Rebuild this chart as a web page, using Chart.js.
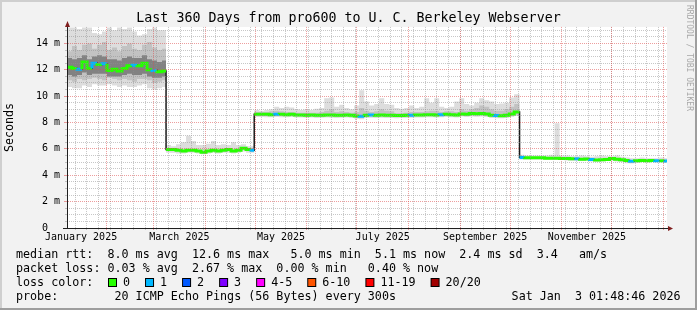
<!DOCTYPE html>
<html>
<head>
<meta charset="utf-8">
<title>Last 360 Days from pro600 to U. C. Berkeley Webserver</title>
<style>
  html, body { margin: 0; padding: 0; background: #f2f2f2; }
  #chartWrapper { width: 697px; height: 310px; }
</style>
<script src="https://cdn.jsdelivr.net/npm/chart.js"></script>
</head>
<body>
<div id="chartWrapper"><canvas id="rttChart" width="697" height="310"></canvas></div>
<script>
// time axis: days since 1 Jan 2025, graph covers the 360 days before Sat Jan 3 01:48:46 2026
const X_MIN = 7.07;
const X_MAX = 367.07;
const STEP = 3;                               // days per plotted sample
const SEG_START = [7.07, 66.5, 119.4, 278.6]; // route changes on Mar 8, Apr 30 and Oct 6

const MONTH_STARTS = [31, 59, 90, 120, 151, 181, 212, 243, 273, 304, 334, 365];
const X_LABEL_DAYS = [15.5, 74.5, 135.5, 196.5, 258, 319];
const X_LABELS = ['January 2025', 'March 2025', 'May 2025', 'July 2025', 'September 2025', 'November 2025'];
const Y_TICKS = [0, 2, 4, 6, 8, 10, 12, 14];
const Y_LABELS = ['0  ', '2 m', '4 m', '6 m', '8 m', '10 m', '12 m', '14 m'];

// median rtt (ms) per sample
const medJanMar = [12.2, 12.1, 12.05, 12.6, 12.1, 12.5, 12.4, 12.45, 11.95, 12.05, 11.9, 12.1, 12.3, 12.35, 12.3, 12.5, 12.0, 11.95, 11.85, 11.9];
const medMarApr = [5.95, 5.95, 5.9, 5.85, 5.9, 5.9, 5.85, 5.75, 5.85, 5.9, 5.85, 5.9, 5.95, 5.85, 5.9, 6.05, 5.95, 5.9];
const medMayOct = [8.62, 8.63, 8.62, 8.6, 8.62, 8.63, 8.6, 8.62,
  8.58, 8.57, 8.56, 8.58, 8.55, 8.56, 8.58, 8.57, 8.55, 8.56, 8.58, 8.55,
  8.5, 8.48, 8.56, 8.57, 8.55, 8.58, 8.56, 8.55, 8.53, 8.54, 8.55, 8.56,
  8.57, 8.58, 8.6, 8.6, 8.58, 8.6, 8.62, 8.6, 8.58, 8.65, 8.62,
  8.68, 8.66, 8.68, 8.64, 8.55, 8.53, 8.52, 8.55, 8.65, 8.8];
const medOctJan = [5.35, 5.33, 5.32, 5.33, 5.32, 5.3, 5.3, 5.3, 5.28, 5.27,
  5.25, 5.25, 5.22, 5.24, 5.2, 5.15, 5.18, 5.2, 5.28, 5.22,
  5.18, 5.12, 5.06, 5.1, 5.12, 5.1, 5.12, 5.1, 5.1, 5.08];

// samples with one lost ping out of 20
const loss1JanMar = [2, 5, 7, 13, 17];
const loss1MarApr = [17];
const loss1MayOct = [4, 21, 23, 31, 37, 48];
const loss1OctJan = [0, 11, 14, 22, 27, 29];

// smoke: spread of the 20 pings (ms)
const maxJanMar = [15.2, 15.2, 15.1, 15.2, 15.2, 14.8, 14.7, 14.9, 15.2, 15.0, 15.2, 15.1, 15.2, 14.9, 14.6, 14.7, 15.1, 15.2, 15.0, 15.0];
const hiJanMar = [13.4, 13.8, 13.5, 13.9, 14.0, 13.6, 13.9, 14.1, 13.5, 13.7, 13.4, 13.8, 14.0, 13.6, 13.5, 13.9, 14.1, 13.7, 13.5, 13.6];
const coreHiJanMar = [12.9, 12.8, 12.9, 13.1, 12.8, 13.0, 13.1, 13.0, 12.8, 12.8, 12.7, 12.9, 13.0, 12.9, 12.9, 13.1, 12.8, 12.7, 12.6, 12.7];
const coreLoJanMar = [11.6, 11.5, 11.6, 11.8, 11.6, 11.7, 11.7, 11.7, 11.5, 11.5, 11.5, 11.6, 11.7, 11.6, 11.6, 11.7, 11.5, 11.4, 11.4, 11.5];
const loJanMar = [11.2, 11.1, 11.3, 11.2, 11.3, 11.4, 11.3, 11.2, 11.4, 11.3, 11.2, 11.3, 11.2, 11.1, 11.3, 11.3, 11.2, 11.0, 11.1, 11.2];
const minJanMar = [10.7, 10.6, 10.6, 10.8, 10.7, 10.9, 10.8, 10.8, 10.9, 10.8, 10.7, 10.8, 10.7, 10.7, 10.8, 10.9, 10.6, 10.5, 10.6, 10.7];

const maxMarApr = [6.3, 6.2, 6.35, 6.5, 7.0, 6.6, 6.3, 6.3, 6.4, 6.6, 6.3, 6.35, 6.3, 6.5, 6.3, 6.35, 6.2, 6.2];
const minMarApr = [5.7, 5.7, 5.65, 5.65, 5.7, 5.7, 5.65, 5.6, 5.65, 5.7, 5.65, 5.7, 5.7, 5.65, 5.7, 5.8, 5.7, 5.7];

const maxMayOct = [8.95, 8.9, 8.95, 9.0, 9.2, 9.1, 9.2, 9.15, 9.0, 8.95,
  9.0, 8.95, 9.05, 9.1, 9.85, 9.9, 9.2, 9.35, 9.1, 9.0,
  9.3, 10.45, 9.6, 9.3, 9.4, 9.85, 9.4, 9.35, 9.1, 9.05,
  9.1, 9.3, 9.1, 9.2, 9.85, 9.5, 9.85, 9.2, 9.1, 9.2,
  9.6, 9.85, 9.4, 9.3, 9.5, 9.85, 9.7, 9.6, 9.4, 9.45,
  9.5, 9.9, 10.15];
const hiMayOct = [8.8, 8.8, 8.8, 8.85, 8.9, 8.85, 8.8, 8.8,
  8.75, 8.75, 8.75, 8.75, 8.75, 8.8, 8.9, 9.0, 8.8, 8.85, 8.8, 8.75,
  8.8, 9.1, 8.9, 8.8, 8.85, 9.0, 8.9, 8.85, 8.7, 8.7, 8.75, 8.8,
  8.8, 8.8, 8.85, 8.9, 8.9, 8.8, 8.85, 8.85, 8.8, 9.0, 8.9,
  9.0, 9.1, 9.3, 9.2, 9.0, 8.9, 8.9, 9.0, 9.2, 9.4];
const loMayOct = [8.52, 8.53, 8.52, 8.5, 8.52, 8.53, 8.5, 8.52,
  8.48, 8.47, 8.46, 8.48, 8.45, 8.46, 8.48, 8.47, 8.45, 8.46, 8.48, 8.45,
  8.4, 8.38, 8.46, 8.47, 8.45, 8.48, 8.46, 8.45, 8.43, 8.44, 8.45, 8.46,
  8.47, 8.48, 8.5, 8.5, 8.48, 8.5, 8.52, 8.5, 8.48, 8.55, 8.52,
  8.55, 8.54, 8.55, 8.52, 8.45, 8.43, 8.42, 8.45, 8.52, 8.6];
const minMayOct = [8.42, 8.42, 8.4, 8.4, 8.42, 8.4, 8.4, 8.42,
  8.38, 8.38, 8.36, 8.38, 8.35, 8.36, 8.38, 8.36, 8.35, 8.36, 8.38, 8.35,
  8.28, 8.25, 8.35, 8.36, 8.35, 8.36, 8.35, 8.34, 8.33, 8.34, 8.35, 8.36,
  8.38, 8.38, 8.4, 8.4, 8.38, 8.4, 8.42, 8.4, 8.38, 8.45, 8.42,
  8.45, 8.44, 8.45, 8.42, 8.35, 8.33, 8.32, 8.35, 8.42, 8.5];

const maxOctJan = [5.55, 5.5, 5.5, 5.5, 5.5, 5.5, 5.55, 7.95, 5.5, 5.5,
  5.45, 5.45, 5.5, 5.45, 5.4, 5.45, 5.5, 5.45, 5.45, 5.5,
  5.4, 5.35, 5.3, 5.3, 5.35, 5.3, 5.3, 5.3, 5.35, 5.3];
const minOctJan = [5.2, 5.2, 5.2, 5.2, 5.2, 5.18, 5.18, 5.15, 5.15, 5.12,
  5.1, 5.1, 5.08, 5.1, 5.05, 5.02, 5.05, 5.08, 5.1, 5.05,
  5.0, 4.92, 4.9, 4.95, 5.0, 4.98, 5.0, 4.98, 4.98, 4.96];

const LOSS_LABELS = ['0', '1', '2', '3', '4-5', '6-10', '11-19', '20/20'];
const LOSS_LIMITS = [0, 1, 2, 3, 5, 10, 19, 20];
const LOSS_COLORS = ['#26ff00', '#00b8ff', '#0059ff', '#7e00ff', '#ff00ff', '#ff5500', '#ff0000', '#a10000'];

const TITLE = 'Last 360 Days from pro600 to U. C. Berkeley Webserver';
const LEGEND_RTT = 'median rtt:  8.0 ms avg  12.6 ms max   5.0 ms min  5.1 ms now  2.4 ms sd  3.4   am/s';
const LEGEND_LOSS = 'packet loss: 0.03 % avg  2.67 % max  0.00 % min   0.40 % now';
const LEGEND_PROBE = 'probe:        20 ICMP Echo Pings (56 Bytes) every 300s';
const STAMP = 'Sat Jan  3 01:48:46 2026';

const MED = [medJanMar, medMarApr, medMayOct, medOctJan];
const LOSS1 = [loss1JanMar, loss1MarApr, loss1MayOct, loss1OctJan];

// each sample becomes a flat step from its start to the next sample
function steps(segs) {
  const pts = [];
  MED.forEach((med, k) => {
    const end = k + 1 < SEG_START.length ? SEG_START[k + 1] : X_MAX;
    for (let i = 0; i < med.length; i++) {
      const t0 = SEG_START[k] + i * STEP;
      const t1 = i === med.length - 1 ? end : t0 + STEP;
      const v = segs[k] ? segs[k][i] : null;
      pts.push({x: t0, y: v}, {x: t1, y: v});
    }
  });
  return pts;
}

const medAll = [];
const lossAll = [];
MED.forEach((med, k) => med.forEach((v, i) => {
  medAll.push(v);
  lossAll.push(LOSS1[k].includes(i) ? 1 : 0);
}));

function lossColor(n) {
  let i = 0;
  while (n > LOSS_LIMITS[i]) i++;
  return LOSS_COLORS[i];
}

const MONO = '"DejaVu Sans Mono", monospace';
const GRID_MINOR = 'rgba(143,143,143,0.5)';
const GRID_MAJOR = 'rgba(222,79,79,0.55)';

const weekDays = [];
for (let d = 12; d < X_MAX; d += 7) weekDays.push(d);
const halfMs = [];
for (let v = 0.5; v < 15.25; v += 0.5) if (v % 2 !== 0) halfMs.push(v);

const rrdFrame = {
  id: 'rrdFrame',
  beforeDraw(chart) {
    const {ctx, chartArea: a, width: w, height: h} = chart;
    ctx.save();
    ctx.fillStyle = '#f2f2f2';
    ctx.fillRect(0, 0, w, h);
    ctx.fillStyle = '#cfcfcf';
    ctx.fillRect(0, 0, w, 2);
    ctx.fillRect(0, 0, 2, h);
    ctx.fillStyle = '#9e9e9e';
    ctx.fillRect(0, h - 2, w, 2);
    ctx.fillRect(w - 2, 0, 2, h);
    ctx.fillStyle = '#ffffff';
    ctx.fillRect(a.left, a.top, a.right - a.left, a.bottom - a.top);
    ctx.restore();
  },
  afterDraw(chart) {
    const {ctx, chartArea: a} = chart;
    ctx.save();
    // axis stubs and arrows
    ctx.strokeStyle = '#1f1f1f';
    ctx.lineWidth = 1;
    ctx.beginPath();
    ctx.moveTo(a.left - 4, a.bottom + 0.5);
    ctx.lineTo(a.left, a.bottom + 0.5);
    ctx.moveTo(a.right, a.bottom + 0.5);
    ctx.lineTo(a.right + 2, a.bottom + 0.5);
    ctx.stroke();
    ctx.fillStyle = '#801f1f';
    ctx.beginPath();
    ctx.moveTo(a.left + 0.5, a.top - 6);
    ctx.lineTo(a.left - 2, a.top);
    ctx.lineTo(a.left + 3, a.top);
    ctx.closePath();
    ctx.fill();
    ctx.beginPath();
    ctx.moveTo(a.right + 6, a.bottom + 0.5);
    ctx.lineTo(a.right + 1, a.bottom - 2);
    ctx.lineTo(a.right + 1, a.bottom + 3);
    ctx.closePath();
    ctx.fill();

    // legend block
    ctx.fillStyle = '#000';
    ctx.font = '11.7px ' + MONO;
    ctx.textBaseline = 'middle';
    ctx.textAlign = 'left';
    ctx.fillText(LEGEND_RTT, 16, 254.5);
    ctx.fillText(LEGEND_LOSS, 16, 268.5);
    ctx.fillText('loss color:', 16, 282.5);
    ctx.fillText(LEGEND_PROBE, 16, 296.5);
    let bx = 108;
    LOSS_LABELS.forEach((lab, i) => {
      ctx.fillStyle = '#000';
      ctx.fillRect(bx, 278, 9, 9);
      ctx.fillStyle = LOSS_COLORS[i];
      ctx.fillRect(bx + 1, 279, 7, 7);
      ctx.fillStyle = '#000';
      ctx.fillText(lab, bx + 15, 282.5);
      bx += 15 + ctx.measureText(lab).width + 15;
    });
    ctx.textAlign = 'right';
    ctx.fillText(STAMP, 680.5, 296.5);

    // watermark
    ctx.translate(689, 5);
    ctx.rotate(Math.PI / 2);
    ctx.font = '8px ' + MONO;
    ctx.fillStyle = '#a8a8a8';
    ctx.textAlign = 'left';
    ctx.fillText('RRDTOOL / TOBI OETIKER', 0, 0);
    ctx.restore();
  }
};

Chart.defaults.font.family = MONO;
Chart.defaults.color = '#000';

const band = {pointRadius: 0, borderWidth: 0, borderColor: 'transparent', tension: 0, spanGaps: false};

new Chart(document.getElementById('rttChart'), {
  type: 'line',
  data: {
    datasets: [
      {
        label: 'median rtt',
        data: steps(MED),
        borderColor: LOSS_COLORS[0],
        borderWidth: 3,
        borderCapStyle: 'butt',
        pointRadius: 0,
        tension: 0,
        fill: false,
        segment: {
          borderColor: c => {
            const g0 = Math.floor(c.p0DataIndex / 2);
            const g1 = Math.floor(c.p1DataIndex / 2);
            if (g0 !== g1 && Math.abs(medAll[g1] - medAll[g0]) > 1) return 'rgba(0,0,0,0)';
            return lossColor(lossAll[g1]);
          }
        }
      },
      {label: 'median line', data: steps(MED), borderColor: '#1a1a1a', borderWidth: 1.5, pointRadius: 0, tension: 0, fill: false},
      Object.assign({label: 'core hi', data: steps([coreHiJanMar, null, null, null]), backgroundColor: '#828282', fill: '+1'}, band),
      Object.assign({label: 'core lo', data: steps([coreLoJanMar, null, null, null]), fill: false}, band),
      Object.assign({label: 'mid hi', data: steps([hiJanMar, null, hiMayOct, null]), backgroundColor: '#c2c2c2', fill: '+1'}, band),
      Object.assign({label: 'mid lo', data: steps([loJanMar, null, loMayOct, null]), fill: false}, band),
      Object.assign({label: 'max', data: steps([maxJanMar, maxMarApr, maxMayOct, maxOctJan]), backgroundColor: '#dddddd', fill: '+1'}, band),
      Object.assign({label: 'min', data: steps([minJanMar, minMarApr, minMayOct, minOctJan]), fill: false}, band)
    ]
  },
  options: {
    responsive: false,
    animation: false,
    devicePixelRatio: 1,
    events: [],
    layout: {padding: {left: 0, top: 0, right: 0, bottom: 62}},
    plugins: {
      legend: {display: false},
      tooltip: {enabled: false},
      title: {
        display: true,
        text: TITLE,
        color: '#000',
        font: {family: MONO, size: 13.3, weight: 'normal'},
        padding: {top: 11, bottom: 0}
      }
    },
    scales: {
      xMin: {
        type: 'linear', position: 'bottom', weight: -2, min: X_MIN, max: X_MAX,
        afterBuildTicks: s => { s.ticks = weekDays.map(v => ({value: v})); },
        afterFit: s => { s.height = 0; },
        ticks: {display: false},
        grid: {color: GRID_MINOR, tickColor: GRID_MINOR, tickLength: 2, z: 1},
        border: {display: false, dash: [1, 1]}
      },
      xMaj: {
        type: 'linear', position: 'bottom', weight: -1, min: X_MIN, max: X_MAX,
        afterBuildTicks: s => { s.ticks = MONTH_STARTS.map(v => ({value: v})); },
        afterFit: s => { s.height = 0; },
        ticks: {display: false},
        grid: {color: GRID_MAJOR, tickColor: GRID_MAJOR, tickLength: 2, z: 2},
        border: {display: false, dash: [1, 1]}
      },
      x: {
        type: 'linear', position: 'bottom', min: X_MIN, max: X_MAX,
        afterBuildTicks: s => { s.ticks = X_LABEL_DAYS.map(v => ({value: v})); },
        afterFit: s => { s.height = 20; },
        ticks: {autoSkip: false, maxRotation: 0, padding: 3.5, font: {family: MONO, size: 10}, color: '#000',
          callback: (v, i) => X_LABELS[i]},
        grid: {display: false, drawTicks: false},
        border: {display: true, color: '#1f1f1f', width: 1, z: 3}
      },
      yMin: {
        type: 'linear', position: 'left', weight: -1, min: 0, max: 15.25,
        afterBuildTicks: s => { s.ticks = halfMs.map(v => ({value: v})); },
        afterFit: s => { s.width = 0; },
        ticks: {display: false},
        grid: {color: GRID_MINOR, tickColor: GRID_MINOR, tickLength: 2, z: 1},
        border: {display: false, dash: [1, 1]}
      },
      y: {
        type: 'linear', position: 'left', min: 0, max: 15.25,
        afterBuildTicks: s => { s.ticks = Y_TICKS.map(v => ({value: v})); },
        afterFit: s => { s.width = 67; },
        ticks: {padding: 4, font: {family: MONO, size: 10}, color: '#000', callback: (v, i) => Y_LABELS[i]},
        grid: {color: GRID_MAJOR, tickColor: GRID_MAJOR, tickLength: 3, z: 2},
        border: {display: true, color: '#1f1f1f', width: 1, dash: [1, 1], z: 3},
        title: {display: true, text: 'Seconds', color: '#000', font: {family: MONO, size: 11.7}, padding: {top: 3, bottom: 0}}
      },
      // empty strip on the right that holds the watermark
      yRight: {
        type: 'linear', position: 'right', min: 0, max: 1,
        afterFit: s => { s.width = 30; },
        ticks: {display: false},
        grid: {display: false, drawTicks: false},
        border: {display: false}
      }
    }
  },
  plugins: [rrdFrame]
});
</script>
</body>
</html>
